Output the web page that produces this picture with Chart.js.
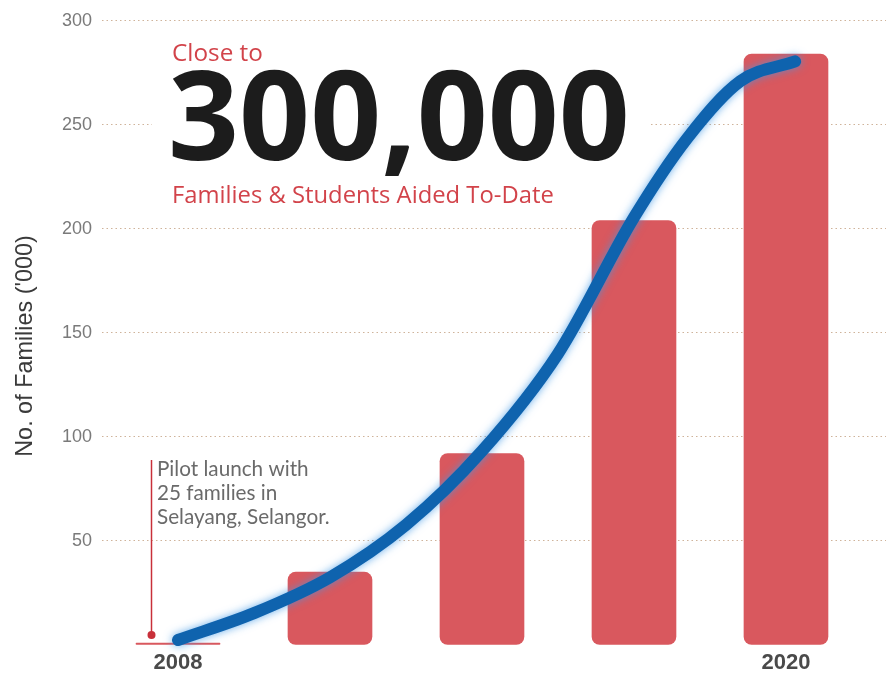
<!DOCTYPE html>
<html>
<head>
<meta charset="utf-8">
<script src="https://cdn.jsdelivr.net/npm/chart.js@4.4.1/dist/chart.umd.min.js"></script>
<style>
  html, body { margin: 0; padding: 0; background: #fff; }
  #wrap { width: 886px; height: 673px; }
</style>
</head>
<body>
<div id="wrap"><canvas id="c" width="886" height="673"></canvas></div>
<script>
// bars: one per period, only first and last are labelled
const categories = ['2008', '', '', '', '2020'];
const families = [0.025, 35, 92, 204, 284];
const yTicks = [50, 100, 150, 200, 250, 300];

// blue growth curve (x in bar-index units)
const trendX = [0, 0.5, 1.0, 1.5, 2.0, 2.5, 3.0, 3.35, 3.7, 4.06];
const trendY = [2.4, 15.3, 32.5, 57.7, 93.2, 140, 205.5, 243.5, 271, 280.5];

const headline = ['Close to', '300,000', 'Families & Students Aided To-Date'];
const pilotNote = ['Pilot launch with', '25 families in', 'Selayang, Selangor.'];
const yTitle = "No. of Families ('000)";

const RED = '#d9585e';
const TEXT_RED = '#d2434a';

function fitFont(ctx, text, width, weight, family) {
  ctx.font = `${weight} 100px ${family}`;
  const size = 100 * width / ctx.measureText(text).width;
  return `${weight} ${size.toFixed(1)}px ${family}`;
}

const overlay = {
  id: 'overlay',
  beforeDatasetsDraw(chart) {
    const ctx = chart.ctx;
    ctx.save();
    // white panel behind the headline hides the grid
    ctx.fillStyle = '#fff';
    ctx.fillRect(152, 30, 497, 185);

    ctx.textAlign = 'left';
    ctx.textBaseline = 'alphabetic';
    ctx.fillStyle = TEXT_RED;
    ctx.font = fitFont(ctx, headline[0], 91, 400, "'Open Sans'");
    ctx.fillText(headline[0], 172, 61);
    ctx.fillStyle = '#1c1c1c';
    ctx.font = fitFont(ctx, headline[1], 462, 700, "'Open Sans'");
    ctx.fillText(headline[1], 168, 160);
    ctx.fillStyle = TEXT_RED;
    ctx.font = fitFont(ctx, headline[2], 381, 400, "'Open Sans'");
    ctx.fillText(headline[2], 172, 203);

    // pilot launch marker
    ctx.strokeStyle = '#c8303a';
    ctx.lineWidth = 1.5;
    ctx.beginPath();
    ctx.moveTo(151.5, 460);
    ctx.lineTo(151.5, 635);
    ctx.stroke();
    ctx.fillStyle = '#c8303a';
    ctx.beginPath();
    ctx.arc(151.5, 635, 4, 0, Math.PI * 2);
    ctx.fill();

    ctx.fillStyle = '#6a6a6a';
    ctx.font = fitFont(ctx, pilotNote[2], 173, 400, 'Lato');
    pilotNote.forEach((t, i) => ctx.fillText(t, 157, 476 + i * 24));

    // y axis title
    ctx.translate(26, 346);
    ctx.rotate(-Math.PI / 2);
    ctx.textAlign = 'center';
    ctx.textBaseline = 'middle';
    ctx.fillStyle = '#3a3a3a';
    ctx.font = fitFont(ctx, yTitle, 222, 400, "'Liberation Sans'");
    ctx.fillText(yTitle, 0, 0);
    ctx.restore();
  },
  beforeDatasetDraw(chart, args) {
    if (args.meta.type !== 'line') return;
    const ctx = chart.ctx;
    ctx.save();
    ctx.shadowColor = 'rgba(60, 150, 230, 0.75)';
    ctx.shadowBlur = 9;
  },
  afterDatasetDraw(chart, args) {
    if (args.meta.type !== 'line') return;
    chart.ctx.restore();
  }
};

new Chart(document.getElementById('c'), {
  data: {
    datasets: [
      {
        type: 'line',
        order: 0,
        data: trendX.map((x, i) => ({ x, y: trendY[i] })),
        borderColor: '#0f63ae',
        borderWidth: 12,
        borderCapStyle: 'round',
        borderJoinStyle: 'round',
        pointRadius: 0,
        cubicInterpolationMode: 'monotone',
        fill: false,
        clip: false,
      },
      {
        type: 'bar',
        order: 1,
        data: families.map((v, i) => ({ x: i, y: v })),
        backgroundColor: RED,
        barThickness: 84,
        grouped: false,
        borderRadius: 8,
        borderSkipped: false,
        minBarLength: 2,
      },
    ],
  },
  options: {
    responsive: false,
    animation: false,
    devicePixelRatio: 1,
    layout: { padding: 0 },
    plugins: { legend: { display: false }, tooltip: { enabled: false } },
    scales: {
      x: {
        type: 'linear',
        offset: false,
        min: -0.5,
        max: 4.658,
        afterBuildTicks: (s) => { s.ticks = [{ value: 0 }, { value: 4 }]; },
        afterFit: (s) => { s.height = 28; },
        grid: { display: false, drawTicks: false, offset: false },
        border: { display: false },
        ticks: {
          autoSkip: false,
          maxRotation: 0,
          padding: 5,
          color: '#4a4a4a',
          font: { family: "'Liberation Sans', Arial, sans-serif", size: 22, weight: 'bold' },
          callback: (v) => categories[v] ?? '',
        },
      },
      y: {
        min: 0,
        max: 300,
        afterBuildTicks: (s) => { s.ticks = [0, ...yTicks].map((v) => ({ value: v })); },
        afterFit: (s) => { s.width = 102; },
        grid: {
          drawTicks: false,
          lineWidth: 1,
          color: (c) => (c.tick && c.tick.value === 0 ? 'rgba(0,0,0,0)' : '#cfb39a'),
        },
        border: { display: false, dash: [1.5, 3] },
        ticks: {
          padding: 10,
          color: '#7a7a7a',
          font: { family: "'Liberation Sans', Arial, sans-serif", size: 18 },
          callback: (v) => (v === 0 ? '' : v),
        },
      },
    },
  },
  plugins: [overlay],
});
</script>
</body>
</html>
